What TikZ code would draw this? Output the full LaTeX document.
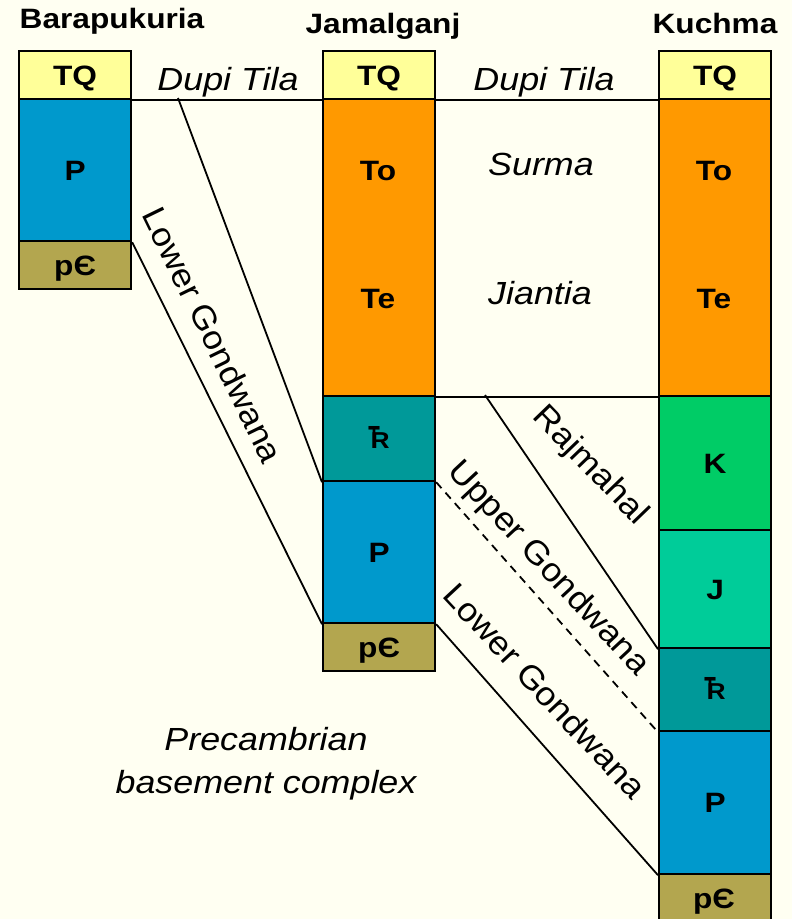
\documentclass[tikz,border=0pt]{standalone}
\usepackage{fontspec}
\usepackage{graphicx}
\setmainfont{Liberation Sans}
\newfontfamily\hdfont{Liberation Sans}[FakeStretch=1.13]
\newfontfamily\itfont{Liberation Sans}[FakeStretch=1.12]
\newfontfamily\rtfont{Liberation Sans}[FakeStretch=1.08]
\definecolor{bgc}{HTML}{FFFFF2}
\definecolor{cTQ}{HTML}{FFFF99}
\definecolor{cP}{HTML}{0099CC}
\definecolor{cPC}{HTML}{B3A64F}
\definecolor{cOr}{HTML}{FF9900}
\definecolor{cTR}{HTML}{009999}
\definecolor{cK}{HTML}{00CC66}
\definecolor{cJ}{HTML}{00CC99}
\newcommand{\TRs}{\mbox{{\fontsize{32}{32}\selectfont\scalebox{0.52}[1]{T}}\kern-9pt{\fontsize{23}{23}\selectfont R}}}
\tikzset{
  unit/.style={draw=black, line width=2.2pt, minimum width=112pt, inner sep=0pt,
    anchor=north west, text height=20pt, text depth=0pt,
    font=\hdfont\bfseries\fontsize{28}{30}\selectfont},
  blab/.style={inner sep=0pt, text height=20pt, text depth=0pt,
    font=\hdfont\bfseries\fontsize{28}{30}\selectfont},
  head/.style={inner sep=0pt, anchor=base, font=\hdfont\bfseries\fontsize{28}{30}\selectfont},
  ital/.style={inner sep=0pt, anchor=base, font=\itfont\itshape\fontsize{32}{34}\selectfont},
  rlab/.style={inner sep=0pt, font=\rtfont\fontsize{33}{35}\selectfont},
  link/.style={line width=1.8pt},
}
\begin{document}
\begin{tikzpicture}[x=1pt,y=-1pt]
\useasboundingbox (0,0) rectangle (792,919);
\clip (0,0) rectangle (792,919);
\fill[bgc] (0,0) rectangle (792,919);

% headers
\node[head] (h1) at (112,28) {Barapukuria};
\node[head] (h2) at (383,33) {Jamalganj};
\node[head] (h3) at (715,33) {Kuchma};

% column 1
\node[unit, fill=cTQ, minimum height=48pt] (aTQ) at (18,50) {TQ};
\node[unit, fill=cP, minimum height=142pt] (aP) at (18,98) {P};
\node[unit, fill=cPC, minimum height=48pt] (aPC) at (18,240) {pЄ};

% column 2
\node[unit, fill=cTQ, minimum height=48pt] (bTQ) at (322,50) {TQ};
\node[unit, fill=cOr, minimum height=297pt] (bOr) at (322,98) {};
\node[unit, fill=cTR, minimum height=85pt] (bTR) at (322,395) {\TRs};
\node[unit, fill=cP, minimum height=142pt] (bP) at (322,480) {P};
\node[unit, fill=cPC, minimum height=48pt] (bPC) at (322,622) {pЄ};
\node[blab] (bTo) at (378,170) {To};
\node[blab] (bTe) at (378,298) {Te};

% column 3
\node[unit, fill=cTQ, minimum height=48pt] (cTQn) at (658,50) {TQ};
\node[unit, fill=cOr, minimum height=297pt] (cOrn) at (658,98) {};
\node[unit, fill=cK, minimum height=134pt] (cKn) at (658,395) {K};
\node[unit, fill=cJ, minimum height=118pt] (cJn) at (658,529) {J};
\node[unit, fill=cTR, minimum height=83pt] (cTRn) at (658,647) {\TRs};
\node[unit, fill=cP, minimum height=143pt] (cPn) at (658,730) {P};
\node[unit, fill=cPC, minimum height=60pt] (cPCn) at (658,873) {};
\node[blab] (cTo) at (714,170) {To};
\node[blab] (cTe) at (714,298) {Te};
\node[blab] (cPCl) at (714,898) {pЄ};

% connectors
\draw[link] (aTQ.south east) -- (bTQ.south west);
\draw[link] (bTQ.south east) -- (cTQn.south west);
\coordinate (dt) at (178,98);
\draw[link] (dt) -- (bTR.south west);
\draw[link] (aP.south east) -- (bP.south west);
\draw[link] (bOr.south east) -- (cOrn.south west);
\coordinate (rj) at (485,395);
\draw[link] (rj) -- (cJn.south west);
\draw[link, dash pattern=on 8pt off 6pt] (bTR.south east) -- (cTRn.south west);
\draw[link] (bP.south east) -- (cPn.south west);

% formation names
\node[ital] (dt1) at (228,90) {Dupi Tila};
\node[ital] (dt2) at (544,90) {Dupi Tila};
\node[ital] (su) at (541,175) {Surma};
\node[ital] (ji) at (540,304) {Jiantia};
\node[ital] (pc1) at (266,750) {Precambrian};
\node[ital] (pc2) at (266,793) {basement complex};
\node[rlab, rotate=-64] (lg1) at (213,335) {Lower Gondwana};
\node[rlab, rotate=-46] (rm) at (590,466) {Rajmahal};
\node[rlab, rotate=-47] (ug) at (548,569) {Upper Gondwana};
\node[rlab, rotate=-47] (lg2) at (545,691) {Lower Gondwana};
\end{tikzpicture}
\end{document}
